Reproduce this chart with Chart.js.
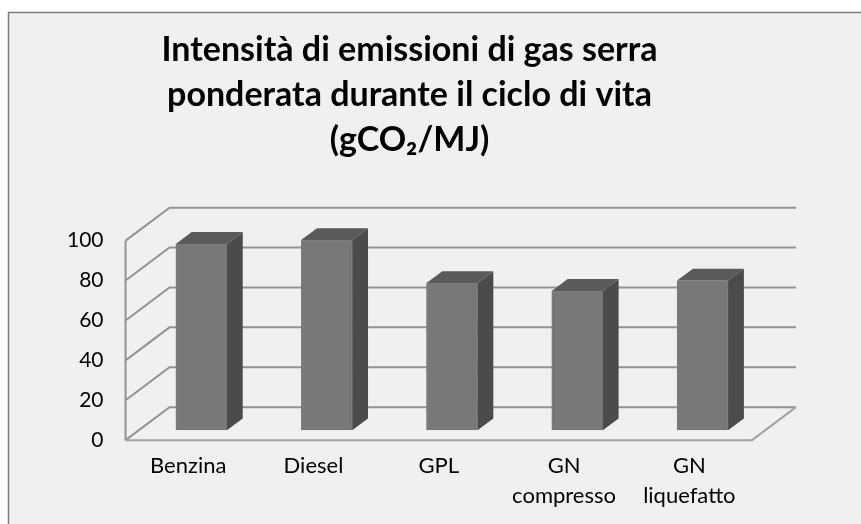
<!DOCTYPE html>
<html>
<head>
<meta charset="utf-8">
<style>
  html, body { margin: 0; padding: 0; background: #fff; }
  #wrap { width: 861px; height: 524px; }
</style>
<script src="https://cdn.jsdelivr.net/npm/chart.js@4.4.1/dist/chart.umd.min.js"></script>
</head>
<body>
<div id="wrap"><canvas id="grafico"></canvas></div>
<script>
  // dati
  const categorie = ['Benzina', 'Diesel', 'GPL', ['GN', 'compresso'], ['GN', 'liquefatto']];
  const intensita = [93.4, 95.3, 73.8, 69.8, 75.0];
  const titolo = ['Intensità di emissioni di gas serra', 'ponderata durante il ciclo di vita', '(gCO₂/MJ)'];
  const tickY = [0, 20, 40, 60, 80, 100];

  // prospettiva finta tipo Excel 3D
  const PROF_X = 44, PROF_Y = 33;   // profondità della parete
  const BAR_T = 0.3, BAR_D = 0.36;  // posizione e spessore delle barre nella profondità

  const sfondo = {
    id: 'sfondo',
    afterLayout(chart) {
      // il titolo nell'originale è un po' più a destra
      if (chart.titleBlock) {
        chart.titleBlock.left += 11;
        chart.titleBlock.right += 11;
      }
    },
    beforeDraw(chart) {
      const c = chart.ctx;
      c.save();
      c.fillStyle = '#ffffff';
      c.fillRect(0, 0, chart.width, chart.height);
      c.fillStyle = '#f0f0f0';
      c.fillRect(8.5, 12.5, chart.width + 10, chart.height + 10);
      c.strokeStyle = '#7f7f7f';
      c.lineWidth = 1.5;
      c.strokeRect(8.5, 12.5, chart.width + 10, chart.height + 10);
      c.restore();
    }
  };

  const box3d = {
    id: 'box3d',
    beforeDatasetsDraw(chart) {
      const c = chart.ctx;
      const { left, right } = chart.chartArea;
      const y = chart.scales.y;
      c.save();
      c.strokeStyle = '#939393';
      c.lineWidth = 2;
      c.beginPath();
      tickY.forEach(v => {
        const py = y.getPixelForValue(v);
        // diagonale parete sinistra
        c.moveTo(left, py);
        c.lineTo(left + PROF_X, py - PROF_Y);
        // linea di griglia sulla parete di fondo
        c.lineTo(right + PROF_X, py - PROF_Y);
      });
      // spigolo verticale davanti
      c.moveTo(left, y.getPixelForValue(0));
      c.lineTo(left, y.getPixelForValue(100));
      c.stroke();
      // pavimento
      const p0 = y.getPixelForValue(0);
      c.strokeStyle = '#a3a3a3';
      c.beginPath();
      c.moveTo(left, p0);
      c.lineTo(right, p0);
      c.lineTo(right + PROF_X, p0 - PROF_Y);
      c.stroke();
      c.restore();

      // le barre vengono disegnate spostate dentro la profondità
      c.save();
      c.translate(PROF_X * BAR_T, -PROF_Y * BAR_T);
    },
    afterDatasetsDraw(chart) {
      const c = chart.ctx;
      const dx = PROF_X * BAR_D, dy = PROF_Y * BAR_D;
      chart.getDatasetMeta(0).data.forEach(bar => {
        const { x, y, base, width } = bar.getProps(['x', 'y', 'base', 'width'], true);
        const l = x - width / 2, r = x + width / 2;
        // lato destro
        c.fillStyle = '#4b4b4b';
        c.beginPath();
        c.moveTo(r, y);
        c.lineTo(r + dx, y - dy);
        c.lineTo(r + dx, base - dy);
        c.lineTo(r, base);
        c.closePath();
        c.fill();
        // faccia superiore
        c.fillStyle = '#5a5a5a';
        c.beginPath();
        c.moveTo(l, y);
        c.lineTo(l + dx, y - dy);
        c.lineTo(r + dx, y - dy);
        c.lineTo(r, y);
        c.closePath();
        c.fill();
      });
      c.restore();
    }
  };

  new Chart(document.getElementById('grafico'), {
    type: 'bar',
    data: {
      labels: categorie,
      datasets: [{
        label: 'Intensità',
        data: intensita,
        backgroundColor: '#787878',
        borderColor: '#828282',
        borderWidth: 1,
        barThickness: 51
      }]
    },
    options: {
      responsive: true,
      maintainAspectRatio: false,
      animation: false,
      layout: { padding: { left: 45, right: 109, top: 12, bottom: 2 } },
      plugins: {
        legend: { display: false },
        tooltip: { enabled: false },
        title: {
          display: true,
          text: titolo,
          color: '#000',
          font: { family: 'Lato', size: 34, weight: 'bold', lineHeight: 1.32 },
          padding: { top: 16, bottom: 78 }
        }
      },
      scales: {
        x: {
          grid: { display: false, drawTicks: false },
          border: { display: false },
          ticks: {
            color: '#000',
            padding: 11,
            maxRotation: 0,
            autoSkip: false,
            font: { family: 'Lato', size: 22, lineHeight: 1.36 }
          }
        },
        y: {
          min: 0,
          max: 100,
          grid: { display: false, drawTicks: false },
          border: { display: false },
          ticks: {
            stepSize: 20,
            color: '#000',
            padding: 22,
            font: { family: 'Lato', size: 21 }
          }
        }
      }
    },
    plugins: [sfondo, box3d]
  });
</script>
</body>
</html>
